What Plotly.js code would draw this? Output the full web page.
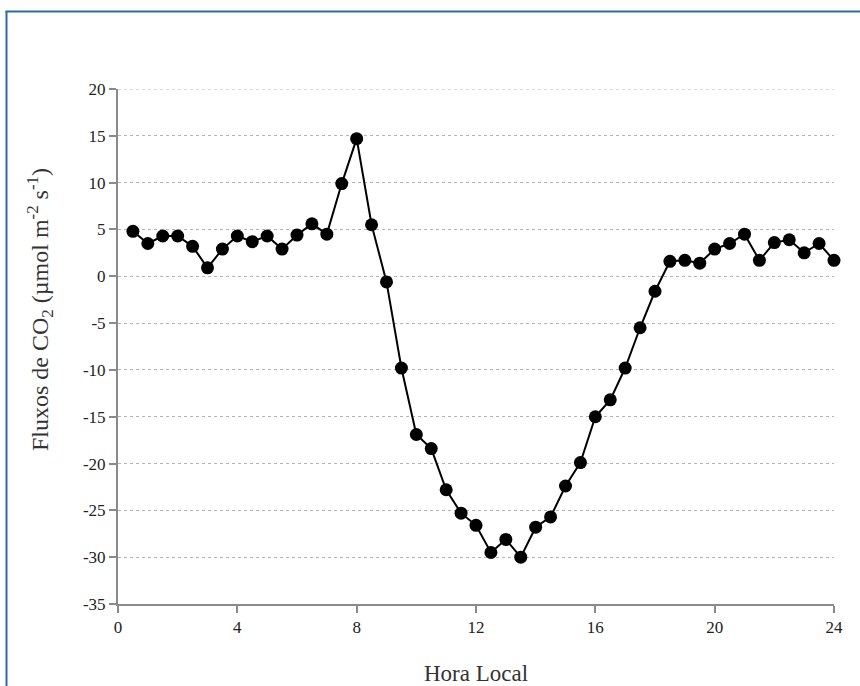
<!DOCTYPE html>
<html>
<head>
<meta charset="utf-8">
<script src="https://cdn.plot.ly/plotly-3.0.1.min.js"></script>
<style>
html,body{margin:0;padding:0;background:#fff;}
#chart{width:860px;height:686px;}
</style>
</head>
<body>
<div id="chart"></div>
<script>
// Hora local (h)
const hours = [0.5,1,1.5,2,2.5,3,3.5,4,4.5,5,5.5,6,6.5,7,7.5,8,8.5,9,9.5,10,10.5,11,11.5,12,12.5,13,13.5,14,14.5,15,15.5,16,16.5,17,17.5,18,18.5,19,19.5,20,20.5,21,21.5,22,22.5,23,23.5,24];
// Fluxos de CO2 (µmol m-2 s-1)
const fluxes = [4.8,3.5,4.3,4.3,3.2,0.9,2.9,4.3,3.7,4.3,2.9,4.4,5.6,4.5,9.9,14.7,5.5,-0.6,-9.8,-16.9,-18.4,-22.8,-25.3,-26.6,-29.5,-28.1,-30.0,-26.8,-25.7,-22.4,-19.9,-15.0,-13.2,-9.8,-5.5,-1.6,1.6,1.7,1.4,2.9,3.5,4.5,1.7,3.6,3.9,2.5,3.5,1.7];
const xTicks = [0,4,8,12,16,20,24];
const yTicks = [-35,-30,-25,-20,-15,-10,-5,0,5,10,15,20];

const font = 'Liberation Serif';
const W = 860, H = 686, L = 118, R = 26, T = 89, B = 82;
const pw = W - L - R, ph = H - T - B;
const px = v => (v - L) / pw;
const py = v => (H - B - v) / ph;

const trace = {
  x: hours, y: fluxes, type: 'scatter', mode: 'lines+markers',
  line: {color: '#000', width: 2},
  marker: {color: '#000', size: 13},
  cliponaxis: false, showlegend: false, hoverinfo: 'skip'
};

const layout = {
  width: W, height: H,
  margin: {l: L, r: R, t: T, b: B},
  paper_bgcolor: '#fff', plot_bgcolor: '#fff',
  font: {family: font, color: '#222', size: 17},
  xaxis: {
    range: [0, 24], tickvals: xTicks, ticktext: xTicks.map(String),
    showgrid: false, zeroline: false,
    showline: true, linecolor: '#8a8a8a', linewidth: 2,
    ticks: 'outside', ticklen: 7, tickwidth: 2, tickcolor: '#8a8a8a',
    tickfont: {family: font, size: 17, color: '#222'},
    title: {text: 'Hora Local', font: {family: font, size: 23, color: '#333'}, standoff: 30}
  },
  yaxis: {
    range: [-35, 20], tickvals: yTicks, ticktext: yTicks.map(String),
    showgrid: true, gridcolor: '#b5b5b5', gridwidth: 1, griddash: 'dot',
    zeroline: false,
    showline: true, linecolor: '#8a8a8a', linewidth: 2,
    ticks: 'outside', ticklen: 7, tickwidth: 2, tickcolor: '#8a8a8a',
    tickfont: {family: font, size: 17, color: '#222'}
  },
  annotations: [{
    text: 'Fluxos de CO<sub>2</sub> (µmol m<sup>-2</sup> s<sup>-1</sup>)',
    xref: 'paper', yref: 'paper', x: px(40), y: py(310),
    xanchor: 'center', yanchor: 'middle', textangle: -90, showarrow: false,
    font: {family: font, size: 24, color: '#333'}
  }],
  shapes: [
    {type: 'line', xref: 'paper', yref: 'y', x0: 0, x1: 1, y0: 20, y1: 20, layer: 'below', line: {color: '#b5b5b5', width: 1, dash: 'dot'}},
    {type: 'line', xref: 'paper', yref: 'paper', x0: px(6.5), x1: px(6.5), y0: py(11), y1: py(690), line: {color: '#2b6c9e', width: 2}},
    {type: 'line', xref: 'paper', yref: 'paper', x0: px(5.5), x1: px(870), y0: py(11.5), y1: py(11.5), line: {color: '#2b6c9e', width: 2}}
  ]
};

function refreshTickFonts() {
  document.querySelectorAll('#chart .xtick text, #chart .ytick text').forEach(t => {
    t.style.fontFamily = '"Liberation Serif", "Times New Roman", serif';
    t.setAttribute('font-family', 'Liberation Serif');
  });
}

Plotly.newPlot('chart', [trace], layout, {displayModeBar: false}).then(() => {
  refreshTickFonts();
  requestAnimationFrame(refreshTickFonts);
});
</script>
</body>
</html>
